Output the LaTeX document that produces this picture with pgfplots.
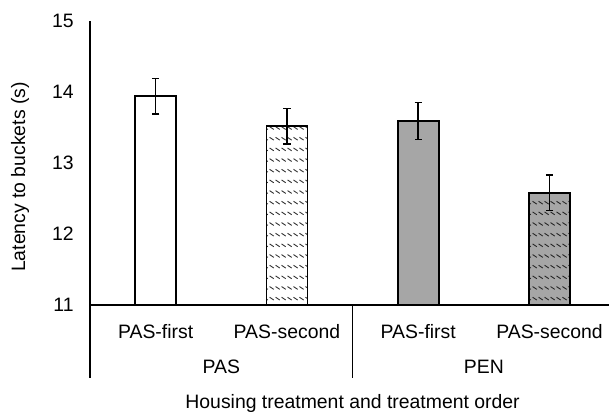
\documentclass[border=0pt]{standalone}
\usepackage{fontspec}
\setmainfont{Liberation Sans}
\usepackage{pgfplots}
\pgfplotsset{compat=1.18}
\usetikzlibrary{patterns}
\definecolor{bargray}{HTML}{A6A6A6}
\pgfdeclarepatternformonly{dashdiag}{\pgfqpoint{-1pt}{-1pt}}{\pgfqpoint{4pt}{6.5pt}}{\pgfqpoint{3pt}{5.35pt}}{%
  \pgfsetlinewidth{0.45pt}%
  \pgfpathmoveto{\pgfqpoint{0.3pt}{4.1pt}}%
  \pgfpathlineto{\pgfqpoint{2.4pt}{2.7pt}}%
  \pgfusepath{stroke}%
}
\begin{document}
\begin{tikzpicture}
\path[use as bounding box] (-45bp,-53.5bp) rectangle (259.5bp,152.5bp);
\begin{axis}[
  at={(0,0)}, anchor=south west,
  scale only axis,
  width=259.5bp, height=142bp,
  xmin=-0.5, xmax=3.453,
  ymin=11, ymax=15,
  ytick={11,12,13,14,15},
  xtick={0,1,2,3},
  xticklabels={PAS-first,PAS-second,PAS-first,PAS-second},
  axis x line*=bottom, axis y line*=left,
  axis line style={-, line width=0.8bp, black},
  major tick length=0pt,
  tick style={draw=none},
  /pgf/number format/assume math mode=true,
  tick label style={font=\fontsize{9.7bp}{11bp}\selectfont, text=black},
  yticklabel style={anchor=east, inner sep=0pt, xshift=-8bp},
  xticklabel style={anchor=base, inner sep=0pt, yshift=-16.5bp},
  ybar, bar width=20.5bp, bar shift=0pt,
  clip mode=individual,
  enlargelimits=false,
  error bars/y dir=both, error bars/y explicit,
  error bars/error bar style={line width=0.8bp, black},
  error bars/error mark options={rotate=90, mark size=1.85bp, line width=0.8bp, black},
]
\addplot[draw=black, line width=0.8bp, fill=white] coordinates {(0,13.94) +- (0,0.25)};
\addplot[draw=black, line width=0.8bp, fill=white, postaction={pattern=dashdiag, pattern color=black!80}] coordinates {(1,13.52) +- (0,0.25)};
\addplot[draw=black, line width=0.8bp, fill=bargray] coordinates {(2,13.59) +- (0,0.26)};
\addplot[draw=black, line width=0.8bp, fill=bargray, postaction={pattern=dashdiag, pattern color=black!85}] coordinates {(3,12.58) +- (0,0.25)};
\draw[line width=0.8bp] (axis cs:-0.5,11) -- ([yshift=-36.5bp]axis cs:-0.5,11);
\draw[line width=0.8bp] (axis cs:1.5,11) -- ([yshift=-36.5bp]axis cs:1.5,11);
\node[anchor=base, inner sep=0pt, font=\fontsize{9.7bp}{11bp}\selectfont] at ([yshift=-34bp]axis cs:0.5,11) {PAS};
\node[anchor=base, inner sep=0pt, font=\fontsize{9.7bp}{11bp}\selectfont] at ([yshift=-34bp]axis cs:2.5,11) {PEN};
\node[anchor=base, inner sep=0pt, font=\fontsize{9.7bp}{11bp}\selectfont] at ([yshift=-51.5bp]axis cs:1.5,11) {Housing treatment and treatment order};
\node[rotate=90, inner sep=0pt, font=\fontsize{9.7bp}{11bp}\selectfont] at ([xshift=-35bp,yshift=64bp]axis cs:-0.5,11) {Latency to buckets (s)};
\end{axis}
\end{tikzpicture}
\end{document}
